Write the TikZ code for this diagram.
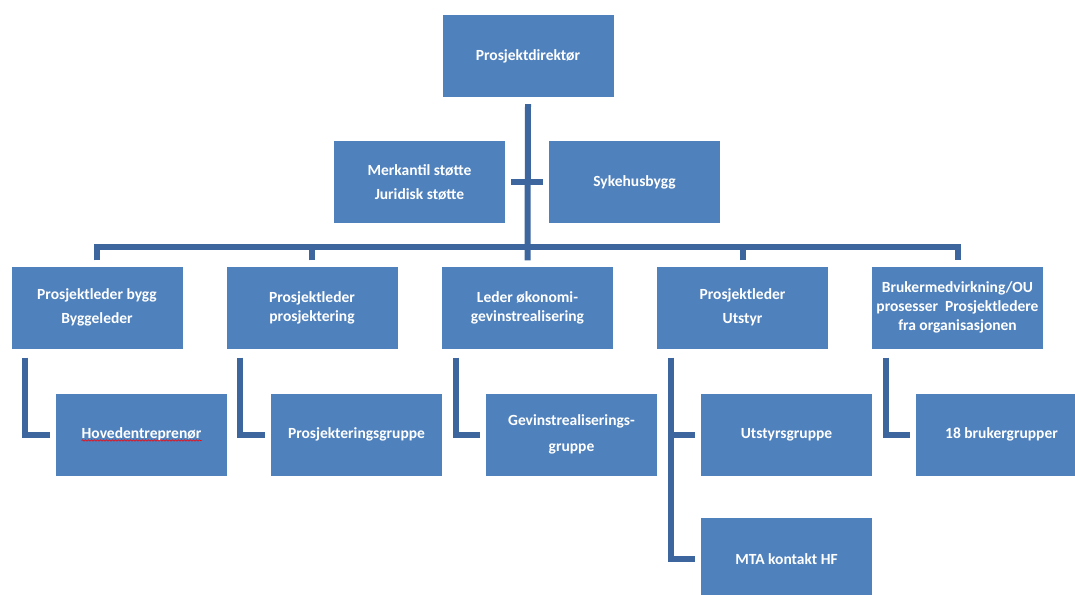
\documentclass[tikz,border=0pt]{standalone}
\usepackage{fontspec}
\setmainfont{Carlito}
\usetikzlibrary{decorations.pathmorphing}
\definecolor{boxblue}{RGB}{79,129,189}
\definecolor{linkblue}{RGB}{61,101,158}
\begin{document}
\begin{tikzpicture}[x=1pt, y=-1pt, line join=miter,
  unit/.style={rectangle, fill=boxblue, text=white, minimum width=171pt,
    minimum height=82pt, inner sep=0pt, align=center,
    font=\bfseries\fontsize{15.5}{19}\selectfont},
  link/.style={draw=linkblue, line width=6pt}]
\useasboundingbox (0,0) rectangle (1075,594);
\node[unit] (dir)  at (528,56)    {Prosjektdirektør};
\node[unit] (merk) at (419.5,182) {Merkantil støtte\\[5pt]Juridisk støtte};
\node[unit] (syk)  at (634.5,182) {Sykehusbygg};
\node[unit] (pl1) at (97,307.5)    {Prosjektleder bygg\\[5pt]Byggeleder};
\node[unit] (pl2) at (312,307.5)   {Prosjektleder\\prosjektering};
\node[unit] (pl3) at (527.5,307.5) {Leder økonomi-\\gevinstrealisering};
\node[unit] (pl4) at (742.5,307.5) {Prosjektleder\\[5pt]Utstyr};
\node[unit] (pl5) at (957.5,307.5) {Brukermedvirkning/OU\\prosesser~~Prosjektledere\\fra organisasjonen};
\node[unit] (g1) at (141.5,434.5)  {Hovedentreprenør};
\node[unit] (g2) at (356.5,434.5)  {Prosjekteringsgruppe};
\node[unit] (g3) at (571.5,434.5)  {Gevinstrealiserings-\\[7pt]gruppe};
\node[unit] (g4) at (786.5,434.5)  {Utstyrsgruppe};
\node[unit] (g5) at (1001.5,434.5) {18 brukergrupper};
\node[unit] (mta) at (786.5,559)   {MTA kontakt HF};
\coordinate (bus) at (527.5,247);
\draw[link] ([yshift=-7pt]dir.south) -- ([yshift=6pt]pl3.north);
\draw[link] ([xshift=6pt]merk.east) -- ([xshift=-6pt]syk.west);
\draw[link] ([yshift=6pt]pl1.north) |- (bus) -| ([yshift=6pt]pl5.north);
\draw[link] ([yshift=6pt]pl2.north) -- (pl2.north |- bus);
\draw[link] ([yshift=6pt]pl4.north) -- (pl4.north |- bus);
\foreach \a/\b in {pl1/g1, pl2/g2, pl3/g3, pl5/g5}
  \draw[link] ([xshift=14pt,yshift=-9pt]\a.south west) |- ([xshift=-6pt]\b.west);
\coordinate (v4) at ([xshift=14pt,yshift=-9pt]pl4.south west);
\draw[link] (v4) |- ([xshift=-6pt]mta.west);
\draw[link] (v4 |- g4.west) -- ([xshift=-6pt]g4.west);
\draw[red, line width=0.6pt, decorate,
  decoration={snake, amplitude=0.7pt, segment length=3pt}]
  ([xshift=-60pt,yshift=-6pt]g1.center) -- ([xshift=60pt,yshift=-6pt]g1.center);
\end{tikzpicture}
\end{document}
